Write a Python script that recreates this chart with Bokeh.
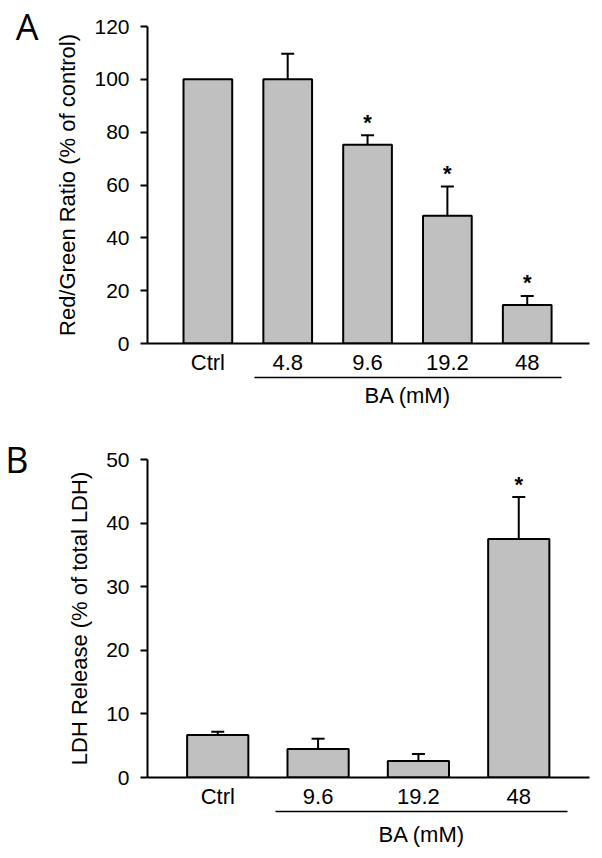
from bokeh.plotting import figure
from bokeh.layouts import column
from bokeh.models import (LinearAxis, FixedTicker, Range1d, Whisker,
                          ColumnDataSource, TeeHead)
from bokeh.embed import file_html
from bokeh.resources import INLINE
from bokeh.core.properties import value

# ---------------- data ----------------
a_labels = ["Ctrl", "4.8", "9.6", "19.2", "48"]
a_means = [100, 100, 75.2, 48.4, 14.6]
a_sem = [0, 9.7, 3.6, 11.0, 3.4]
a_sig = [False, False, True, True, True]
a_yticks = [0, 20, 40, 60, 80, 100, 120]
a_ylabel = "Red/Green Ratio (% of control)"

b_labels = ["Ctrl", "9.6", "19.2", "48"]
b_means = [6.7, 4.5, 2.6, 37.5]
b_sem = [0.5, 1.6, 1.1, 6.6]
b_sig = [False, False, False, True]
b_yticks = [0, 10, 20, 30, 40, 50]
b_ylabel = "LDH Release (% of total LDH)"

group_label = "BA (mM)"
group_first = 1  # first BA-treated category index

FONT = "Liberation Sans"
BAR_FILL = "#c0c0c0"
WIDTH = 594


def make_panel(labels, means, sem, sig, yticks, ylabel, letter, height,
               xr, pads, borders, letter_standoff, star_off, group_standoff):
    n = len(labels)
    xs = list(range(n))
    left, right, top, bottom = borders

    p = figure(width=WIDTH, height=height, x_range=Range1d(*xr),
               y_range=Range1d(yticks[0], yticks[-1]),
               output_backend="svg", toolbar_location=None,
               x_axis_type=None, y_axis_type=None,
               min_border_left=left, min_border_right=right,
               min_border_top=top, min_border_bottom=bottom)
    p.outline_line_color = None
    p.xgrid.visible = False
    p.ygrid.visible = False
    p.background_fill_color = "white"
    p.border_fill_color = "white"

    # y axis
    yax = LinearAxis(ticker=FixedTicker(ticks=yticks, minor_ticks=[]),
                     axis_label=ylabel)
    yax.axis_line_width = 2
    yax.major_tick_line_width = 2
    yax.major_tick_out = 7
    yax.major_tick_in = 0
    yax.minor_tick_out = 0
    yax.major_label_standoff = 11
    yax.major_label_text_font = FONT
    yax.major_label_text_font_size = "21px"
    yax.major_label_text_color = "black"
    yax.axis_label_text_font = FONT
    yax.axis_label_text_font_size = "22px"
    yax.axis_label_text_font_style = "normal"
    yax.axis_label_text_color = "black"
    yax.axis_label_standoff = 11
    p.add_layout(yax, "left")

    # outer left guide carrying the panel letter at the top of the axis
    lax = LinearAxis(ticker=FixedTicker(ticks=[yticks[-1]], minor_ticks=[]),
                     major_label_overrides={yticks[-1]: letter})
    lax.axis_line_color = None
    lax.major_tick_line_color = None
    lax.major_tick_out = 0
    lax.major_tick_in = 0
    lax.minor_tick_out = 0
    lax.major_label_standoff = letter_standoff
    lax.major_label_text_font = "Open Sans"
    lax.major_label_text_font_size = "36px"
    lax.major_label_text_color = "black"
    p.add_layout(lax, "left")

    # main x axis with category labels
    xax = LinearAxis(ticker=FixedTicker(ticks=xs, minor_ticks=[]),
                     major_label_overrides={i: lab for i, lab in enumerate(labels)})
    xax.axis_line_width = 2
    xax.major_tick_out = 0
    xax.major_tick_in = 0
    xax.major_tick_line_color = None
    xax.minor_tick_out = 0
    xax.major_label_standoff = 6
    xax.major_label_text_font = FONT
    xax.major_label_text_font_size = "22px"
    xax.major_label_text_color = "black"
    p.add_layout(xax, "below")

    # bracket axis for the BA group, labelled at its centre
    b0, b1 = group_first - pads[0], xs[-1] + pads[1]
    bc = (b0 + b1) / 2
    bax = LinearAxis(ticker=FixedTicker(ticks=[bc], minor_ticks=[]),
                     bounds=(b0, b1), major_label_overrides={bc: group_label})
    bax.axis_line_width = 1.5
    bax.major_tick_out = 0
    bax.major_tick_in = 0
    bax.major_tick_line_color = None
    bax.minor_tick_out = 0
    bax.major_label_standoff = group_standoff
    bax.major_label_text_font = FONT
    bax.major_label_text_font_size = "22px"
    bax.major_label_text_color = "black"
    p.add_layout(bax, "below")

    # bars
    p.vbar(x=xs, top=means, width=0.61, bottom=0, fill_color=BAR_FILL,
           line_color="black", line_width=2)

    # error bars (upper only)
    ex = [x for x, s in zip(xs, sem) if s > 0]
    elo = [m for m, s in zip(means, sem) if s > 0]
    ehi = [m + s for m, s in zip(means, sem) if s > 0]
    esrc = ColumnDataSource(dict(x=ex, lo=elo, hi=ehi))
    w = Whisker(source=esrc, base="x", lower="lo", upper="hi",
                line_width=2, line_color="black", lower_head=None,
                upper_head=TeeHead(size=13, line_width=2, line_color="black"),
                level="glyph")
    p.add_layout(w)

    # significance asterisks
    sx = [x for x, g in zip(xs, sig) if g]
    sy = [m + s for m, s, g in zip(means, sem, sig) if g]
    p.text(x=sx, y=sy, text=value("*"), text_font=value(FONT),
           text_font_style="bold", text_font_size="22px",
           text_align="center", text_baseline="alphabetic", y_offset=star_off,
           text_color="black")
    return p


pa = make_panel(a_labels, a_means, a_sem, a_sig, a_yticks, a_ylabel, "A", 413,
                (-0.756, 4.78), (0.42, 0.43), (147, 4, 26, 70),
                14, -13, 5)
pb = make_panel(b_labels, b_means, b_sem, b_sig, b_yticks, b_ylabel, "B", 440,
                (-0.70, 3.705), (0.42, 0.49), (146, 5, 46, 76),
                36, -13, 10)

layout = column(pa, pb, spacing=0)
open("out.html", "w").write(file_html(layout, INLINE))
